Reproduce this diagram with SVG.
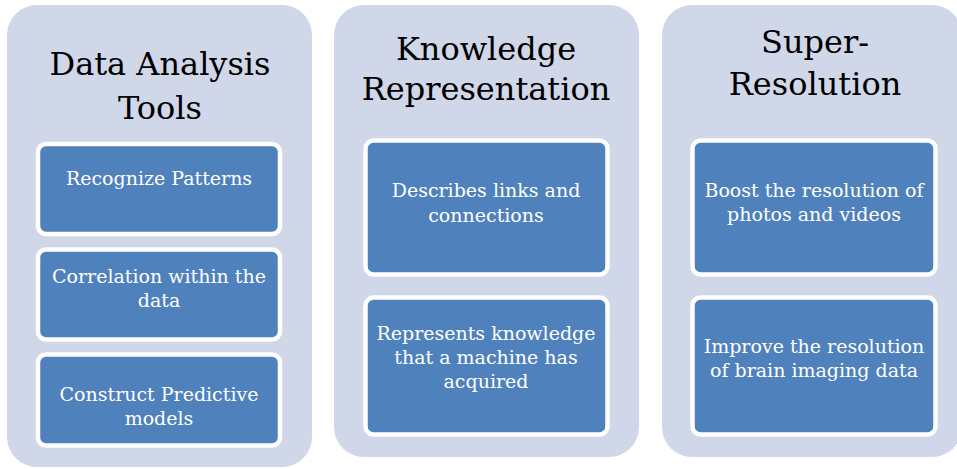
<svg xmlns="http://www.w3.org/2000/svg" width="957" height="469" viewBox="0 0 957 469">
  <style>
    .panel { fill: #D0D7E8; }
    .box { fill: #4F81BD; stroke: #FFFFFF; stroke-width: 4.5; }
    .title { font-family: "DejaVu Serif", "Liberation Serif", serif; font-size: 32px; fill: #000000; text-anchor: middle; }
    .label { font-family: "DejaVu Serif", "Liberation Serif", serif; font-size: 19px; fill: #FFFFFF; text-anchor: middle; }
  </style>
  <rect width="957" height="469" fill="#FFFFFF"/>

  <!-- Column 1 -->
  <g id="data-analysis-tools">
    <rect class="panel" x="7" y="5" width="305" height="462" rx="30"/>
    <text class="title" x="160" y="75">Data Analysis</text>
    <text class="title" x="160" y="119">Tools</text>
  </g>
  <g id="recognize-patterns">
    <rect class="box" x="38" y="144" width="242" height="90" rx="8"/>
    <text class="label" x="159" y="185">Recognize Patterns</text>
  </g>
  <g id="correlation">
    <rect class="box" x="38" y="249.5" width="242" height="90" rx="8"/>
    <text class="label" x="159" y="283">Correlation within the</text>
    <text class="label" x="159" y="307">data</text>
  </g>
  <g id="predictive-models">
    <rect class="box" x="38" y="354.5" width="242" height="91" rx="8"/>
    <text class="label" x="159" y="401">Construct Predictive</text>
    <text class="label" x="159" y="425">models</text>
  </g>

  <!-- Column 2 -->
  <g id="knowledge-representation">
    <rect class="panel" x="334" y="5" width="305" height="452" rx="30"/>
    <text class="title" x="486" y="60">Knowledge</text>
    <text class="title" x="486" y="100">Representation</text>
  </g>
  <g id="links-connections">
    <rect class="box" x="365.5" y="140.5" width="242" height="134" rx="8"/>
    <text class="label" x="486" y="197">Describes links and</text>
    <text class="label" x="486" y="222">connections</text>
  </g>
  <g id="machine-knowledge">
    <rect class="box" x="365.5" y="297.5" width="242" height="137" rx="8"/>
    <text class="label" x="486" y="340">Represents knowledge</text>
    <text class="label" x="486" y="364">that a machine has</text>
    <text class="label" x="486" y="388">acquired</text>
  </g>

  <!-- Column 3 -->
  <g id="super-resolution">
    <rect class="panel" x="662" y="5" width="300" height="452" rx="30"/>
    <text class="title" x="815" y="53">Super-</text>
    <text class="title" x="815" y="95">Resolution</text>
  </g>
  <g id="boost-photos">
    <rect class="box" x="692.5" y="140.5" width="243" height="134" rx="8"/>
    <text class="label" x="814" y="197">Boost the resolution of</text>
    <text class="label" x="814" y="221">photos and videos</text>
  </g>
  <g id="brain-imaging">
    <rect class="box" x="692.5" y="297.5" width="243" height="137" rx="8"/>
    <text class="label" x="814" y="353">Improve the resolution</text>
    <text class="label" x="814" y="377">of brain imaging data</text>
  </g>

  <!-- no connectors in this layout -->
  <g id="connectors"/>
</svg>
